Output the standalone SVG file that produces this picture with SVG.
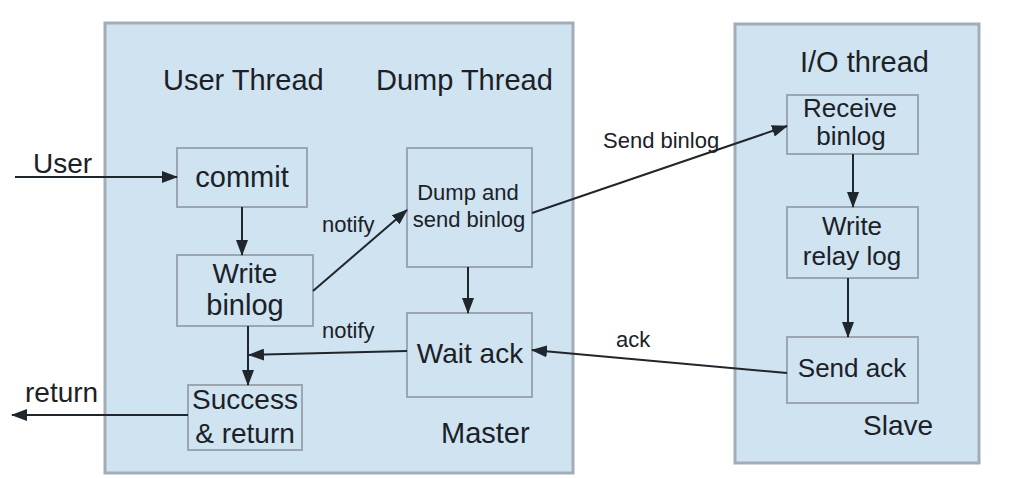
<svg xmlns="http://www.w3.org/2000/svg" width="1024" height="478" viewBox="0 0 1024 478">
<style>
.panel{fill:#d0e3f1;stroke:#a3adb6;stroke-width:3}
.box{fill:#d0e3f1;stroke:#9ba6b0;stroke-width:2}
text{font-family:"Liberation Sans",Arial,sans-serif;fill:#1b2127}
.t29{font-size:29px}
.t28{font-size:28px}
.t26{font-size:26px}
.t22{font-size:22px}
.mid{text-anchor:middle}
.line{stroke:#1f262c;stroke-width:2;fill:none}
</style>
<defs>
<marker id="ah" markerUnits="userSpaceOnUse" markerWidth="16" markerHeight="12" refX="15" refY="6" orient="auto">
<path d="M0,0 L16,6 L0,12 Z" fill="#1f262c"/>
</marker>
</defs>
<rect width="1024" height="478" fill="#ffffff"/>
<g id="master">
<rect class="panel" x="105" y="23" width="468" height="450"/>
<text class="t29" x="163" y="90">User Thread</text>
<text class="t29" x="376" y="90">Dump Thread</text>
<text class="t29" x="441" y="443">Master</text>
</g>
<g id="slave">
<rect class="panel" x="735" y="24" width="244" height="439"/>
<text class="t29" x="800" y="72">I/O thread</text>
<text class="t28" x="863" y="435">Slave</text>
</g>
<g id="commit">
<rect class="box" x="177" y="148" width="130" height="59"/>
<text class="t29 mid" x="242" y="187">commit</text>
</g>
<g id="write-binlog">
<rect class="box" x="177" y="255" width="136" height="71"/>
<text class="t28 mid" x="245" y="283">Write</text>
<text class="t29 mid" x="245" y="315">binlog</text>
</g>
<g id="success-return">
<rect class="box" x="188" y="385" width="114" height="65"/>
<text class="t28 mid" x="245" y="409">Success</text>
<text class="t28 mid" x="245" y="443">&amp; return</text>
</g>
<g id="dump-send">
<rect class="box" x="407" y="148" width="125" height="119"/>
<text class="t22 mid" x="468" y="200">Dump and</text>
<text class="t22 mid" x="469" y="227">send binlog</text>
</g>
<g id="wait-ack">
<rect class="box" x="407" y="313" width="125" height="84"/>
<text class="t28 mid" x="470" y="363">Wait ack</text>
</g>
<g id="receive-binlog">
<rect class="box" x="787" y="95" width="131" height="59"/>
<text class="t26 mid" x="850" y="117">Receive</text>
<text class="t26 mid" x="851" y="145">binlog</text>
</g>
<g id="write-relay">
<rect class="box" x="787" y="207" width="131" height="71"/>
<text class="t26 mid" x="852" y="235">Write</text>
<text class="t26 mid" x="852" y="265">relay log</text>
</g>
<g id="send-ack">
<rect class="box" x="787" y="337" width="131" height="66"/>
<text class="t26 mid" x="852" y="377">Send ack</text>
</g>
<g id="connectors">
<line class="line" x1="15" y1="177" x2="177" y2="177" marker-end="url(#ah)"/>
<text class="t28" x="33" y="173">User</text>
<line class="line" x1="242" y1="207" x2="242" y2="255" marker-end="url(#ah)"/>
<line class="line" x1="248" y1="326" x2="248" y2="385" marker-end="url(#ah)"/>
<line class="line" x1="188" y1="415" x2="12" y2="415" marker-end="url(#ah)"/>
<text class="t28" x="25" y="402">return</text>
<line class="line" x1="313" y1="291" x2="407" y2="210" stroke-width="1.5" marker-end="url(#ah)"/>
<text class="t22" x="322" y="232">notify</text>
<line class="line" x1="407" y1="351" x2="249" y2="355" marker-end="url(#ah)"/>
<text class="t22" x="322" y="338">notify</text>
<line class="line" x1="468" y1="267" x2="468" y2="313" marker-end="url(#ah)"/>
<line class="line" x1="532" y1="213" x2="787" y2="126" stroke-width="1.5" marker-end="url(#ah)"/>
<text class="t22" x="603" y="148">Send binlog</text>
<line class="line" x1="787" y1="373" x2="532" y2="350" marker-end="url(#ah)"/>
<text class="t22" x="616" y="347">ack</text>
<line class="line" x1="853" y1="154" x2="853" y2="207" marker-end="url(#ah)"/>
<line class="line" x1="848" y1="278" x2="848" y2="337" marker-end="url(#ah)"/>
</g>
</svg>
